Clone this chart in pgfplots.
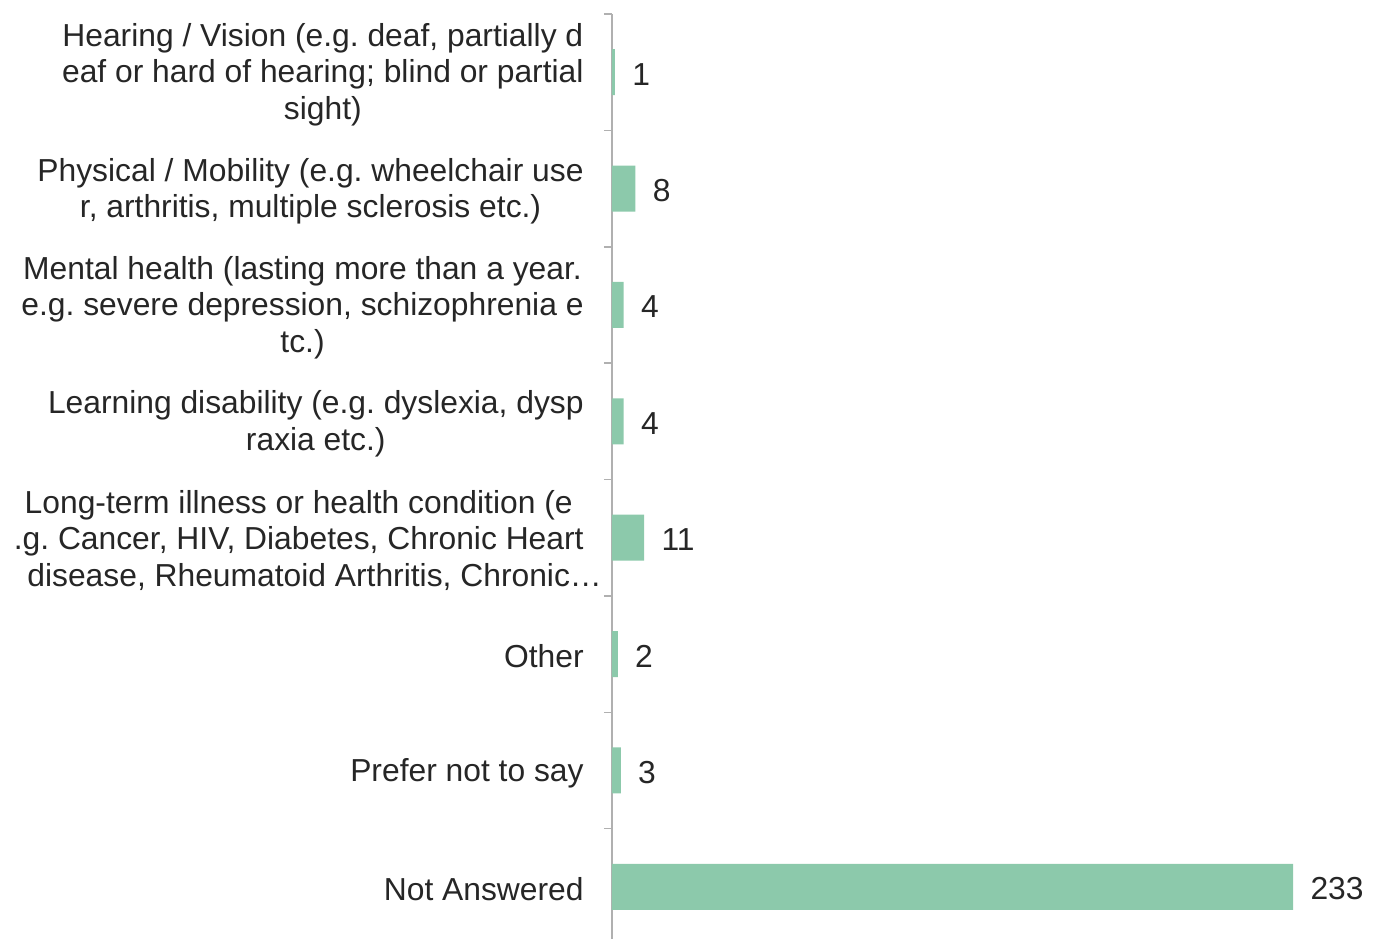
\documentclass[border=0pt]{standalone}
\usepackage{fontspec}
\setmainfont{Liberation Sans}
\usepackage{pgfplots}
\pgfplotsset{compat=1.18}
\frenchspacing
\definecolor{barfill}{HTML}{8CC9AB}
\definecolor{txt}{HTML}{262626}
\definecolor{axisgray}{HTML}{B0B0B0}
\newcommand{\lblfont}{\fontsize{15.9pt}{18.25pt}\selectfont}
\begin{document}
\begin{tikzpicture}
\begin{axis}[
  scale only axis,
  width=365.4pt, height=465.5pt,
  xmin=0, xmax=250,
  ymin=-0.5, ymax=7.5,
  y dir=reverse,
  axis x line=none,
  axis y line*=left,
  axis line style={draw=axisgray, line width=0.75pt},
  xbar, bar width=0.395,
  ytick={0,...,7},
  minor ytick={-0.5,0.5,...,7.5},
  major tick length=0pt,
  minor tick length=4pt,
  tick align=outside,
  tick style={draw=axisgray, line width=0.75pt},
  yticklabels={
    {Hearing / Vision (e.g. deaf, partially d\\eaf or hard of hearing; blind or partial\\sight)},
    {Physical / Mobility (e.g. wheelchair use\\r, arthritis, multiple sclerosis etc.)},
    {Mental health (lasting more than a year.\\e.g. severe depression, schizophrenia e\\tc.)},
    {Learning disability (e.g. dyslexia, dysp\\raxia etc.)},
    {Long-term illness or health condition (e\\.g. Cancer, HIV, Diabetes, Chronic Heart\\disease, Rheumatoid Arthritis, Chronic\rlap{…}},
    {Other},
    {Prefer not to say},
    {Not Answered}
  },
  yticklabel style={font=\lblfont, text=txt, align=center, inner sep=0pt, xshift=-14pt, yshift=-1.25pt},
  /pgf/number format/assume math mode=true,
  nodes near coords,
  nodes near coords style={font=\lblfont, text=txt, inner sep=0pt, xshift=8.5pt, yshift=-1pt},
  clip=false,
]
\addplot[fill=barfill, draw=none] coordinates {
  (1,0) (8,1) (4,2) (4,3) (11,4) (2,5) (3,6) (233,7)
};
\end{axis}
\pgfresetboundingbox
\useasboundingbox (-306pt,3.5pt) rectangle (383.5pt,472.5pt);
\end{tikzpicture}
\end{document}
